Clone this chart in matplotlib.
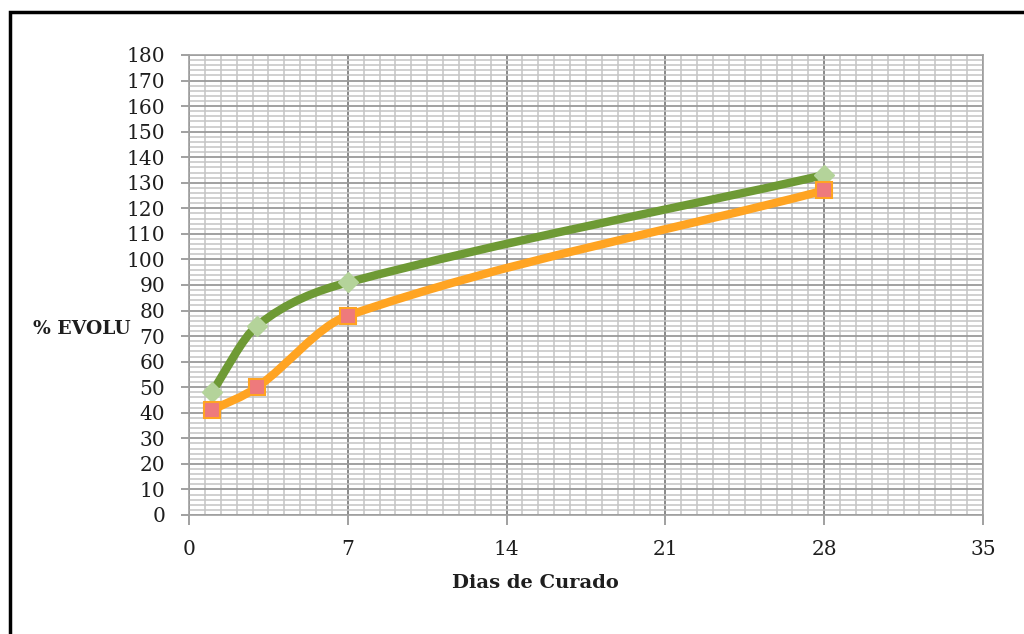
import matplotlib
matplotlib.use("Agg")
import matplotlib.pyplot as plt
import numpy as np
from matplotlib.path import Path
from matplotlib.patches import PathPatch, Rectangle
from matplotlib.ticker import MultipleLocator

# dias de curado vs % evolucion
dias = [1, 3, 7, 28]
serie_verde = [48, 74, 91, 133]
serie_naranja = [41, 50, 78, 127]

x_ticks = [0, 7, 14, 21, 28, 35]
y_ticks = list(range(0, 181, 10))


def smooth_path(xs, ys):
    # hermite cubico (tangentes catmull-rom no uniformes) como bezier
    x = np.asarray(xs, float)
    y = np.asarray(ys, float)
    n = len(x)
    m = np.zeros(n)
    m[0] = (y[1] - y[0]) / (x[1] - x[0])
    m[-1] = (y[-1] - y[-2]) / (x[-1] - x[-2])
    for i in range(1, n - 1):
        m[i] = (y[i + 1] - y[i - 1]) / (x[i + 1] - x[i - 1])
    verts = [(x[0], y[0])]
    codes = [Path.MOVETO]
    for i in range(n - 1):
        h = (x[i + 1] - x[i]) / 3
        verts += [(x[i] + h, y[i] + m[i] * h),
                  (x[i + 1] - h, y[i + 1] - m[i + 1] * h),
                  (x[i + 1], y[i + 1])]
        codes += [Path.CURVE4] * 3
    return Path(verts, codes)


fig = plt.figure(figsize=(10.24, 6.34), dpi=100)
ax = fig.add_axes([189/1024, 1 - 515/634, 794/1024, 460/634])

# borde negro del grafico
fig.patches.append(Rectangle((10/1024, -0.05), 1.2, 1 - 12/634 + 0.05,
                             transform=fig.transFigure, fill=False,
                             edgecolor="black", linewidth=2.5))

ax.set_xlim(0, 35)
ax.set_ylim(0, 180)
ax.set_xticks(x_ticks)
ax.set_yticks(y_ticks)
ax.xaxis.set_minor_locator(MultipleLocator(0.7))
ax.yaxis.set_minor_locator(MultipleLocator(2))
ax.grid(which="minor", color="#c4c4c4", linewidth=1.1)
ax.grid(which="major", axis="y", color="#9a9a9a", linewidth=1.3)
ax.grid(which="major", axis="x", color="#808080", linewidth=1.3)
ax.set_axisbelow(True)
ax.tick_params(which="minor", length=0)
ax.tick_params(which="major", color="#909090", width=1.2,
               labelsize=14.5, labelcolor="#1e1e1e")
ax.tick_params(axis="y", length=6, pad=11)
ax.tick_params(axis="x", length=7, pad=11)
for lbl in ax.get_xticklabels() + ax.get_yticklabels():
    lbl.set_family("DejaVu Serif")
for s in ax.spines.values():
    s.set_color("#a0a0a0")
    s.set_linewidth(1.2)

# lineas suavizadas
ax.add_patch(PathPatch(smooth_path(dias, serie_verde), fill=False,
                       edgecolor="#6e9a35", linewidth=6,
                       capstyle="round", joinstyle="round", zorder=3))
ax.add_patch(PathPatch(smooth_path(dias, serie_naranja), fill=False,
                       edgecolor="#ffa422", linewidth=6,
                       capstyle="round", joinstyle="round", zorder=4))

ax.plot(dias, serie_verde, linestyle="none", marker="D", markersize=10,
        markerfacecolor="#b4d39a", markeredgecolor="#b4d39a", zorder=5,
        clip_on=False)
ax.plot(dias, serie_naranja, linestyle="none", marker="s", markersize=11,
        markerfacecolor="#ee7a7c", markeredgecolor="#ffa422",
        markeredgewidth=1.5, zorder=6, clip_on=False)

fig.text(131/1024, 1 - 329/634, "% EVOLU", ha="right", va="center",
         fontsize=13.5, fontweight="bold", family="DejaVu Serif",
         color="#1e1e1e")
fig.text(535/1024, 1 - 583/634, "Dias de Curado", ha="center", va="center",
         fontsize=14, fontweight="bold", family="DejaVu Serif",
         color="#1e1e1e")

fig.savefig("out.png", dpi=100)
